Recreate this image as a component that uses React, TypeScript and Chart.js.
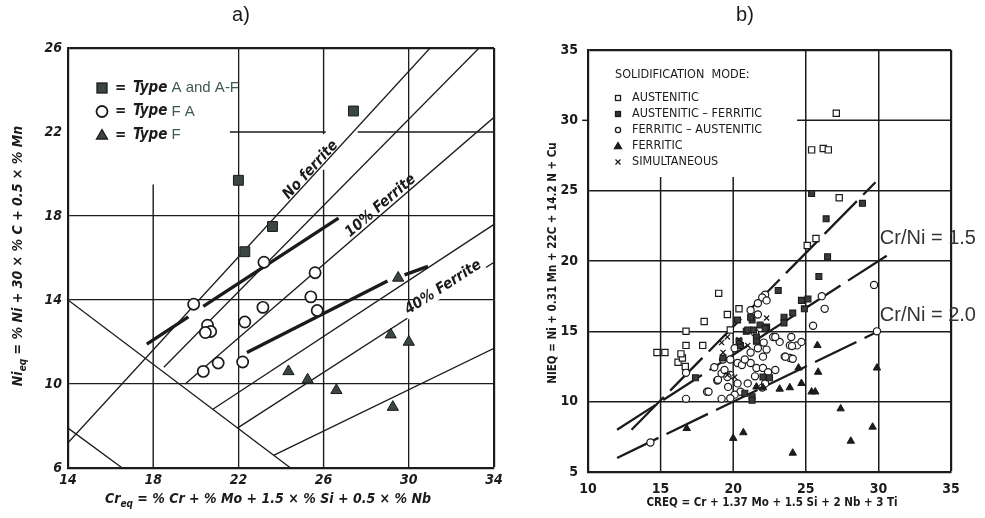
import React, { useEffect, useRef } from "react";
import { Chart, registerables } from "chart.js";
Chart.register(...registerables);

type P = [number, number];
type Seg = [number, number, number, number];

// ---------------- chart a) data ----------------
const aXTicks = [14, 18, 22, 26, 30, 34];
const aYTicks = [6, 10, 14, 18, 22, 26];
const aHiddenGridX = [18, 26];
const aHiddenGridY = [22];
const aTypeA: P[] = [[22.0, 19.7], [22.3, 16.3], [23.6, 17.5], [27.4, 23.0]];
const aTypeFA: P[] = [
  [19.9, 13.8], [20.55, 12.8], [20.7, 12.5], [20.45, 12.45], [20.35, 10.6], [21.05, 11.0],
  [22.3, 12.95], [22.2, 11.05], [23.2, 15.8], [25.6, 15.3], [25.4, 14.15], [25.7, 13.5], [23.15, 13.65],
];
const aTypeF: P[] = [
  [29.5, 15.05], [29.15, 12.35], [30.0, 12.0], [24.35, 10.6], [25.25, 10.2], [26.6, 9.7], [29.25, 8.9],
];
const aThinLines: Seg[] = [
  [14, 7.2, 31.0, 26],
  [18.5, 10.8, 33.3, 26],
  [19.5, 10.0, 34, 22.7],
  [20.8, 8.8, 34, 17.6],
  [21.95, 7.9, 34, 15.8],
  [23.65, 6.6, 34, 11.7],
  [14, 14.0, 24.45, 6],
  [14, 7.9, 16.55, 6],
];
const aThickLines: Seg[] = [
  [17.7, 11.9, 19.65, 13.2],
  [20.35, 13.7, 26.7, 17.9],
  [22.4, 11.5, 29.0, 14.9],
  [29.8, 15.2, 30.9, 15.6],
];
const aGridSegs: Seg[] = [
  [18, 6, 18, 19.5],
  [26, 6, 26, 20.2],
  [26, 21.9, 26, 26],
  [21.6, 22, 26.1, 22],
  [27.6, 22, 34, 22],
];
const aLegend = [
  { sym: "square", rest: " A and A-F" },
  { sym: "circle", rest: " F A" },
  { sym: "triangle", rest: " F" },
];
const aLineLabels = [
  { text: "No ferrite", x: 25.39, y: 20.19, line: 0, bg: false },
  { text: "10% Ferrite", x: 28.68, y: 18.48, line: 2, bg: false },
  { text: "40% Ferrite", x: 31.69, y: 14.48, line: 4, bg: true },
];

// ---------------- chart b) data ----------------
const bXTicks = [10, 15, 20, 25, 30, 35];
const bYTicks = [5, 10, 15, 20, 25, 30, 35];
const bHiddenGridX = [15, 20];
const bHiddenGridY = [30];
const bAustenitic: P[] = [
  [27.1, 30.5], [25.4, 27.9], [26.2, 28.0], [26.55, 27.9], [27.3, 24.5], [25.1, 21.1], [25.7, 21.6],
  [19.0, 17.7], [18.0, 15.7], [19.6, 16.2], [14.75, 13.5], [15.3, 13.5], [16.75, 14.0], [17.9, 14.0],
  [16.75, 15.0], [19.8, 15.1], [16.2, 12.8], [16.5, 13.1], [16.7, 12.5], [16.4, 13.4], [20.4, 16.6],
];
const bAusFer: P[] = [
  [25.4, 24.8], [26.4, 23.0], [28.9, 24.1], [26.5, 20.3], [25.9, 18.9], [23.1, 17.9], [24.7, 17.2],
  [25.15, 17.3], [24.9, 16.6], [24.1, 16.3], [23.5, 16.0], [23.5, 15.6], [17.4, 11.7], [20.3, 15.8],
  [20.9, 15.0], [21.3, 15.8], [21.0, 15.1], [21.4, 15.1], [21.85, 15.45], [22.3, 15.3], [21.6, 14.6],
  [21.6, 14.3], [20.5, 14.0], [19.3, 13.1], [22.05, 11.75], [22.5, 11.7], [20.8, 10.6], [21.3, 10.35],
  [21.3, 10.1], [21.2, 16.0], [22.2, 15.2], [20.4, 14.3],
];
const bFerAus: P[] = [
  [14.3, 7.1], [16.75, 12.05], [16.75, 10.2], [18.2, 10.7], [18.7, 12.45], [18.9, 11.5], [19.2, 12.0],
  [19.2, 10.2], [19.65, 11.05], [19.3, 13.0], [22.2, 17.6], [22.0, 17.4], [21.7, 17.0], [22.3, 17.2],
  [21.2, 16.5], [21.7, 16.2], [22.75, 14.6], [23.2, 14.25], [24.0, 14.6], [20.1, 13.8], [21.2, 13.5],
  [21.7, 13.8], [22.3, 13.7], [22.05, 13.2], [23.9, 14.0], [24.4, 14.0], [23.55, 13.2], [23.9, 13.1],
  [19.8, 13.0], [20.3, 12.75], [20.6, 12.6], [21.2, 12.75], [21.6, 12.4], [22.05, 12.4], [22.4, 12.1],
  [19.4, 12.25], [19.8, 11.9], [18.95, 11.55], [19.6, 11.75], [20.3, 11.3], [21.0, 11.3], [18.3, 10.7],
  [20.5, 10.7], [20.1, 10.5], [19.8, 10.25], [26.1, 17.5], [26.3, 16.6], [29.7, 18.3], [29.9, 15.0],
  [25.5, 15.4], [22.9, 14.6], [24.05, 13.95], [24.7, 14.25], [23.6, 13.2], [24.1, 13.05], [22.0, 11.0],
  [22.9, 12.25], [21.5, 11.8], [22.2, 11.3], [20.8, 13.0], [21.5, 14.9], [22.1, 14.2],
];
const bFerritic: P[] = [
  [25.8, 14.0], [25.85, 12.1], [24.5, 12.4], [24.7, 11.3], [23.2, 10.9], [23.9, 11.0], [25.4, 10.7],
  [25.65, 10.7], [21.6, 11.05], [29.9, 12.4], [27.4, 9.5], [29.6, 8.2], [28.1, 7.2], [24.1, 6.35],
  [20.7, 7.8], [16.8, 8.1], [20.0, 7.4], [22.05, 11.0],
];
const bSimult: P[] = [
  [19.6, 14.6], [19.3, 13.5], [19.6, 11.9], [22.3, 15.95], [21.0, 14.0], [19.2, 14.2], [20.1, 11.75], [20.4, 14.4],
];
const bRatioLines: Seg[] = [
  [12, 8, 30.8, 20.53],
  [13, 8, 29.8, 25.6],
  [12, 6, 30, 15],
];
const bGridSegs: Seg[] = [
  [15, 5, 15, 25.97],
  [20, 5, 20, 25.97],
  [24.4, 30, 35, 30],
];
const bTickMark: Seg = [9.6, 30, 10, 30];
const bLegendTitle = "SOLIDIFICATION  MODE:";
const bLegend = [
  { sym: "osquare", text: "AUSTENITIC" },
  { sym: "fsquare", text: "AUSTENITIC \u2013 FERRITIC" },
  { sym: "circle", text: "FERRITIC \u2013 AUSTENITIC" },
  { sym: "triangle", text: "FERRITIC" },
  { sym: "cross", text: "SIMULTANEOUS" },
];
const bRatioLabels = [
  { text: "Cr/Ni = 1.5", x: 30.1, y: 21.6 },
  { text: "Cr/Ni = 2.0", x: 30.1, y: 16.1 },
];

// ---------------- styling ----------------
const ink = "#1b1b1b";
const darkFill = "#3a4641";
const COND = '"DejaVu Sans Condensed", "DejaVu Sans", sans-serif';
const SANS = '"Liberation Sans", Arial, sans-serif';

const pts = (p: P[]) => p.map(([x, y]) => ({ x, y }));
const seg = (l: Seg) => [{ x: l[0], y: l[1] }, { x: l[2], y: l[3] }];

function lineDs(l: Seg, width: number, dash: number[] = [], clip: any = undefined) {
  const d: any = {
    data: seg(l), showLine: true, borderColor: ink, borderWidth: width, borderDash: dash,
    pointRadius: 0, pointHoverRadius: 0, fill: false, tension: 0, borderCapStyle: "butt",
  };
  if (clip !== undefined) d.clip = clip;
  return d;
}
function ptDs(p: P[], style: string, r: number, fill: string, bw: number) {
  return {
    data: pts(p), showLine: false, pointStyle: style, pointRadius: r, pointHoverRadius: r,
    backgroundColor: fill, pointBackgroundColor: fill, borderColor: ink, pointBorderColor: ink,
    borderWidth: bw, pointBorderWidth: bw,
  };
}

function drawParts(ctx: any, parts: { t: string; sub?: boolean }[], cx: number, cy: number, font: string, subFont: string) {
  let w = 0;
  for (const p of parts) { ctx.font = p.sub ? subFont : font; w += ctx.measureText(p.t).width; }
  let x = cx - w / 2;
  ctx.textAlign = "left";
  ctx.textBaseline = "middle";
  for (const p of parts) {
    ctx.font = p.sub ? subFont : font;
    ctx.fillText(p.t, x, cy + (p.sub ? 5 : 0));
    x += ctx.measureText(p.t).width;
  }
}

function marker(ctx: any, sym: string, x: number, y: number, s: number) {
  ctx.save();
  ctx.strokeStyle = ink;
  ctx.fillStyle = ink;
  ctx.lineWidth = 1.3;
  if (sym === "square" || sym === "fsquare") {
    ctx.fillStyle = sym === "square" ? darkFill : "#333";
    ctx.fillRect(x - s, y - s, 2 * s, 2 * s);
    ctx.strokeRect(x - s, y - s, 2 * s, 2 * s);
  } else if (sym === "osquare") {
    ctx.fillStyle = "#fff";
    ctx.fillRect(x - s, y - s, 2 * s, 2 * s);
    ctx.strokeRect(x - s, y - s, 2 * s, 2 * s);
  } else if (sym === "circle") {
    ctx.fillStyle = "#fff";
    ctx.lineWidth = s > 4 ? 1.8 : 1.3;
    ctx.beginPath(); ctx.arc(x, y, s, 0, Math.PI * 2); ctx.fill(); ctx.stroke();
  } else if (sym === "triangle") {
    ctx.fillStyle = s > 4 ? darkFill : ink;
    ctx.beginPath();
    ctx.moveTo(x, y - s * 1.1); ctx.lineTo(x + s * 1.1, y + s * 0.8); ctx.lineTo(x - s * 1.1, y + s * 0.8);
    ctx.closePath(); ctx.fill(); ctx.stroke();
  } else if (sym === "cross") {
    ctx.beginPath();
    ctx.moveTo(x - s, y - s); ctx.lineTo(x + s, y + s); ctx.moveTo(x + s, y - s); ctx.lineTo(x - s, y + s);
    ctx.stroke();
  }
  ctx.restore();
}

const pluginA = {
  id: "annA",
  afterDraw(chart: any) {
    const ctx = chart.ctx;
    const { left, top, bottom } = chart.chartArea;
    const xs = chart.scales.x, ys = chart.scales.y;
    ctx.save();
    ctx.fillStyle = ink;
    ctx.font = `20px ${SANS}`;
    ctx.textAlign = "center"; ctx.textBaseline = "middle";
    ctx.fillText("a)", 241, 15);
    const f = `italic bold 14px ${COND}`, fs = `italic bold 10px ${COND}`;
    drawParts(ctx, [{ t: "Cr" }, { t: "eq", sub: true }, { t: " = % Cr + % Mo + 1.5 \u00d7 % Si + 0.5 \u00d7 % Nb" }], left + 200, bottom + 31, f, fs);
    ctx.save();
    ctx.translate(left - 50, 256);
    ctx.rotate(-Math.PI / 2);
    drawParts(ctx, [{ t: "Ni" }, { t: "eq", sub: true }, { t: " = % Ni + 30 \u00d7 % C + 0.5 \u00d7 % Mn" }], 0, 0, f, fs);
    ctx.restore();
    aLegend.forEach((it, i) => {
      const y = top + 40 + i * 23.5;
      const mx = left + 34;
      marker(ctx, it.sym, mx, y, it.sym === "circle" ? 5.5 : 5);
      ctx.textAlign = "left"; ctx.textBaseline = "middle";
      ctx.fillStyle = ink;
      ctx.font = `italic bold 15px ${COND}`;
      let x = mx + 13;
      ctx.fillText("= ", x, y); x += ctx.measureText("= ").width + 2;
      ctx.fillText("Type", x, y); x += ctx.measureText("Type").width;
      ctx.font = `15px ${SANS}`;
      ctx.fillStyle = "#3e5a56";
      ctx.fillText(it.rest, x, y);
    });
    aLineLabels.forEach((lb) => {
      const l = aThinLines[lb.line];
      const ang = Math.atan2(ys.getPixelForValue(l[3]) - ys.getPixelForValue(l[1]), xs.getPixelForValue(l[2]) - xs.getPixelForValue(l[0]));
      const px = xs.getPixelForValue(lb.x), py = ys.getPixelForValue(lb.y);
      ctx.save();
      ctx.translate(px, py);
      ctx.rotate(ang);
      ctx.font = `italic bold 15px ${COND}`;
      ctx.textAlign = "center"; ctx.textBaseline = "middle";
      if (lb.bg) {
        const w = ctx.measureText(lb.text).width;
        ctx.fillStyle = "#fff";
        ctx.fillRect(-w / 2 - 3, -8, w + 6, 13);
      }
      ctx.fillStyle = ink;
      ctx.fillText(lb.text, 0, lb.bg ? -3 : 0);
      ctx.restore();
    });
    ctx.restore();
  },
};

const pluginB = {
  id: "annB",
  afterDraw(chart: any) {
    const ctx = chart.ctx;
    const { left, top, bottom } = chart.chartArea;
    const xs = chart.scales.x, ys = chart.scales.y;
    ctx.save();
    ctx.fillStyle = ink;
    ctx.font = `20px ${SANS}`;
    ctx.textAlign = "center"; ctx.textBaseline = "middle";
    ctx.fillText("b)", 240, 15);
    ctx.font = `bold 11.5px ${COND}`;
    ctx.fillText("CREQ = Cr + 1.37 Mo + 1.5 Si + 2 Nb + 3 Ti", left + 184, bottom + 31);
    ctx.save();
    ctx.translate(left - 35, 263);
    ctx.rotate(-Math.PI / 2);
    ctx.fillText("NIEQ = Ni + 0.31 Mn + 22C + 14.2 N + Cu", 0, 0);
    ctx.restore();
    ctx.textAlign = "left";
    ctx.font = `12.5px ${COND}`;
    ctx.fillText(bLegendTitle, left + 27, top + 25);
    bLegend.forEach((it, i) => {
      const y = top + 48 + i * 16;
      marker(ctx, it.sym, left + 30, y, it.sym === "triangle" ? 3.2 : it.sym === "circle" ? 2.6 : 2.5);
      ctx.fillStyle = ink;
      ctx.font = `12.5px ${COND}`;
      ctx.fillText(it.text, left + 44, y);
    });
    ctx.font = `20px ${SANS}`;
    ctx.fillStyle = "#333";
    bRatioLabels.forEach((lb) => {
      ctx.fillText(lb.text, xs.getPixelForValue(lb.x), ys.getPixelForValue(lb.y));
    });
    ctx.restore();
  },
};

function gridOpts(hidden: number[], edge: number, w: number) {
  return {
    drawTicks: false,
    color: (c: any) => (c.tick && hidden.includes(c.tick.value) ? "rgba(0,0,0,0)" : ink),
    lineWidth: (c: any) => (c.tick && c.tick.value === edge ? 2.2 : w),
  };
}

function configA(): any {
  const datasets: any[] = [
    ptDs(aTypeA, "rect", 7, darkFill, 1),
    ptDs(aTypeFA, "circle", 5.6, "#ffffff", 1.7),
    ptDs(aTypeF, "triangle", 6.5, darkFill, 1),
    ...aThickLines.map((l) => lineDs(l, 3.4)),
    ...aThinLines.map((l) => lineDs(l, 1.3)),
    ...aGridSegs.map((l) => lineDs(l, 1.4)),
  ];
  const tickFont = { family: COND, size: 14, style: "italic", weight: "bold" };
  return {
    type: "scatter",
    data: { datasets },
    plugins: [pluginA],
    options: {
      animation: false, responsive: false, maintainAspectRatio: false,
      layout: { padding: { left: 0, top: 48, right: 26, bottom: 0 } },
      plugins: { legend: { display: false }, tooltip: { enabled: false }, title: { display: false } },
      events: [],
      scales: {
        x: {
          type: "linear", min: 14, max: 34,
          afterBuildTicks: (s: any) => { s.ticks = aXTicks.map((v) => ({ value: v })); },
          afterFit: (s: any) => { s.height = 50; },
          grid: gridOpts(aHiddenGridX, 34, 1.3),
          border: { display: true, color: ink, width: 2.2 },
          ticks: { padding: 4, color: ink, font: tickFont, maxRotation: 0, autoSkip: false },
        },
        y: {
          type: "linear", min: 6, max: 26,
          afterBuildTicks: (s: any) => { s.ticks = aYTicks.map((v) => ({ value: v })); },
          afterFit: (s: any) => { s.width = 68; },
          grid: gridOpts(aHiddenGridY, 26, 1.3),
          border: { display: true, color: ink, width: 2.2 },
          ticks: { padding: 6, color: ink, font: tickFont, autoSkip: false },
        },
      },
    },
  };
}

function configB(): any {
  const datasets: any[] = [
    ptDs(bSimult, "crossRot", 3.6, ink, 1.3),
    ptDs(bFerritic, "triangle", 4.3, ink, 1),
    ptDs(bAusFer, "rect", 4.2, "#3a3a3a", 1.1),
    ptDs(bFerAus, "circle", 3.6, "#ffffff", 1.2),
    ptDs(bAustenitic, "rect", 4.4, "#ffffff", 1.2),
    ...bRatioLines.map((l) => lineDs(l, 2.3, [46, 9])),
    ...bGridSegs.map((l) => lineDs(l, 1.5)),
    lineDs(bTickMark, 1.5, [], false),
  ];
  const tickFont = { family: COND, size: 14, weight: "bold" };
  return {
    type: "scatter",
    data: { datasets },
    plugins: [pluginB],
    options: {
      animation: false, responsive: false, maintainAspectRatio: false,
      layout: { padding: { left: 0, top: 50, right: 34, bottom: 0 } },
      plugins: { legend: { display: false }, tooltip: { enabled: false }, title: { display: false } },
      events: [],
      scales: {
        x: {
          type: "linear", min: 10, max: 35,
          afterBuildTicks: (s: any) => { s.ticks = bXTicks.map((v) => ({ value: v })); },
          afterFit: (s: any) => { s.height = 46; },
          grid: gridOpts(bHiddenGridX, 35, 1.5),
          border: { display: true, color: ink, width: 2.2 },
          ticks: { padding: 9, color: ink, font: tickFont, maxRotation: 0, autoSkip: false },
        },
        y: {
          type: "linear", min: 5, max: 35,
          afterBuildTicks: (s: any) => { s.ticks = bYTicks.map((v) => ({ value: v })); },
          afterFit: (s: any) => { s.width = 83; },
          grid: gridOpts(bHiddenGridY, 35, 1.5),
          border: { display: true, color: ink, width: 2.2 },
          ticks: { padding: 10, color: ink, font: tickFont, autoSkip: false },
        },
      },
    },
  };
}

export default function App() {
  const refA = useRef<HTMLCanvasElement>(null);
  const refB = useRef<HTMLCanvasElement>(null);
  useEffect(() => {
    const ca = new Chart(refA.current as HTMLCanvasElement, configA());
    const cb = new Chart(refB.current as HTMLCanvasElement, configB());
    return () => { ca.destroy(); cb.destroy(); };
  }, []);
  return (
    <div style={{ position: "fixed", left: 0, top: 0, width: 985, height: 518, background: "#fff", overflow: "hidden" }}>
      <canvas ref={refA} width={520} height={518} style={{ position: "absolute", left: 0, top: 0, width: 520, height: 518 }} />
      <canvas ref={refB} width={480} height={518} style={{ position: "absolute", left: 505, top: 0, width: 480, height: 518 }} />
    </div>
  );
}
